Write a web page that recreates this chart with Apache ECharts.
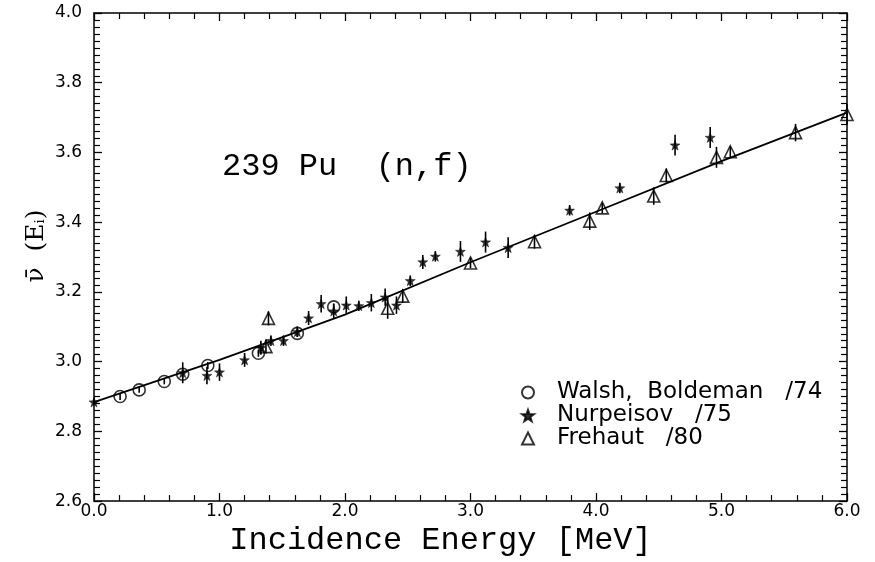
<!DOCTYPE html>
<html>
<head>
<meta charset="utf-8">
<script src="https://cdn.jsdelivr.net/npm/echarts@6/dist/echarts.min.js"></script>
<style>
html,body{margin:0;padding:0;background:#fff;}
#chart{width:875px;height:562px;}
</style>
</head>
<body>
<div id="chart"></div>
<script>
// ---- data ----
const walshE   = [0.208, 0.36, 0.56, 0.707, 0.907, 1.31, 1.62, 1.91];
const walshNu  = [2.900, 2.919, 2.943, 2.964, 2.989, 3.024, 3.081, 3.157];
const walshErr = [0.010, 0.008, 0.008, 0.010, 0.010, 0.010, 0.010, 0.010];

const nurpE   = [0.0, 0.707, 0.90, 1.00, 1.20, 1.33, 1.41, 1.51, 1.62, 1.71, 1.81, 1.91, 2.01, 2.11, 2.21, 2.32, 2.41, 2.52, 2.62, 2.72, 2.92, 3.12, 3.30, 3.79, 4.19, 4.63, 4.91];
const nurpNu  = [2.884, 2.968, 2.960, 2.970, 3.005, 3.040, 3.060, 3.060, 3.086, 3.125, 3.166, 3.145, 3.162, 3.160, 3.169, 3.185, 3.162, 3.232, 3.286, 3.302, 3.316, 3.343, 3.327, 3.434, 3.498, 3.621, 3.643];
const nurpErr = [0.005, 0.030, 0.025, 0.025, 0.020, 0.020, 0.015, 0.015, 0.015, 0.020, 0.025, 0.020, 0.025, 0.015, 0.025, 0.025, 0.025, 0.015, 0.020, 0.015, 0.030, 0.030, 0.030, 0.015, 0.015, 0.030, 0.030];

const frehE   = [1.37, 1.39, 2.34, 2.46, 3.00, 3.51, 3.95, 4.05, 4.46, 4.56, 4.96, 5.07, 5.59, 6.00];
const frehNu  = [3.043, 3.124, 3.153, 3.188, 3.283, 3.344, 3.403, 3.441, 3.475, 3.534, 3.586, 3.602, 3.657, 3.709];
const frehErr = [0.020, 0.020, 0.030, 0.020, 0.015, 0.020, 0.025, 0.015, 0.025, 0.020, 0.030, 0.015, 0.025, 0.030];

const fitE  = [0.0, 1.0, 2.0, 3.0, 4.0, 5.0, 6.0];
const fitNu = [2.884, 3.005, 3.135, 3.285, 3.430, 3.575, 3.714];

const xTicks = ['0.0','1.0','2.0','3.0','4.0','5.0','6.0'];
const yTicks = ['2.6','2.8','3.0','3.2','3.4','3.6','3.8','4.0'];

const seriesNames = ['Walsh,  Boldeman   /74', 'Nurpeisov   /75', 'Frehaut   /80'];
const titleText = '239 Pu  (n,f)';
const xName = 'Incidence Energy [MeV]';

// ---- chart ----
const STAR = 'path://M0,-10 L2.35,-3.24 L9.51,-3.09 L3.8,1.24 L5.88,8.09 L0,4 L-5.88,8.09 L-3.8,1.24 L-9.51,-3.09 L-2.35,-3.24 Z';
const pts = (xs, ys) => xs.map((x, i) => [x, ys[i]]);
const errPts = (xs, ys, es) => xs.map((x, i) => [x, ys[i] - es[i], ys[i] + es[i]]);

function errSeries(xs, ys, es) {
  return {
    type: 'custom',
    data: errPts(xs, ys, es),
    clip: false,
    silent: true,
    z: 3,
    renderItem: function (params, api) {
      const lo = api.coord([api.value(0), api.value(1)]);
      const hi = api.coord([api.value(0), api.value(2)]);
      return {
        type: 'line',
        shape: { x1: lo[0], y1: lo[1], x2: hi[0], y2: hi[1] },
        style: { stroke: '#000', lineWidth: 1.6 }
      };
    }
  };
}

const tickFont = { fontFamily: 'DejaVu Sans', fontSize: 17, color: '#000' };

const axisCommon = {
  axisLine: { show: true, onZero: false, lineStyle: { color: '#000', width: 1.5 } },
  axisTick: { show: true, inside: true, length: 8, lineStyle: { color: '#000', width: 1.3 } },
  splitLine: { show: false }
};

const chart = echarts.init(document.getElementById('chart'), null, { renderer: 'canvas' });
chart.setOption({
  animation: false,
  backgroundColor: '#fff',
  grid: { left: 94, right: 28, top: 13, bottom: 57 },
  xAxis: [
    Object.assign({}, axisCommon, {
      type: 'value', position: 'bottom', min: 0, max: 6, interval: 1,
      minorTick: { show: true, splitNumber: 5, length: 6, lineStyle: { color: '#000', width: 1.2 } },
      axisLabel: Object.assign({ margin: 2, formatter: v => xTicks[Math.round(v)] }, tickFont),
      name: xName, nameLocation: 'middle', nameGap: 21,
      nameTextStyle: { fontFamily: 'Liberation Mono', fontSize: 32, color: '#000', padding: [0, 60, 0, 0] }
    }),
    Object.assign({}, axisCommon, {
      type: 'value', position: 'top', min: 0, max: 6, interval: 1,
      minorTick: { show: true, splitNumber: 5, length: 6, lineStyle: { color: '#000', width: 1.2 } },
      axisLabel: { show: false }
    })
  ],
  yAxis: [
    Object.assign({}, axisCommon, {
      type: 'value', position: 'left', min: 2.6, max: 4.0, interval: 0.2,
      minorTick: { show: true, splitNumber: 10, length: 6, lineStyle: { color: '#000', width: 1.2 } },
      axisLabel: Object.assign({ margin: 12, formatter: v => yTicks[Math.round((v - 2.6) / 0.2)] }, tickFont)
    }),
    Object.assign({}, axisCommon, {
      type: 'value', position: 'right', min: 2.6, max: 4.0, interval: 0.2,
      minorTick: { show: true, splitNumber: 10, length: 6, lineStyle: { color: '#000', width: 1.2 } },
      axisLabel: { show: false }
    })
  ],
  legend: {
    orient: 'vertical',
    left: 516, top: 376,
    itemGap: 0,
    itemWidth: 12, itemHeight: 12,
    textStyle: { fontFamily: 'DejaVu Sans', fontSize: 23, color: '#000', padding: [0, 0, 0, 18] },
    data: seriesNames
  },
  graphic: [
    {
      type: 'text', left: 222, top: 151,
      style: { text: titleText, fontFamily: 'Liberation Mono', fontSize: 32, fill: '#000' }
    },
    {
      type: 'text', x: 36, y: 246, rotation: Math.PI / 2,
      style: {
        text: '{a|ν̄  (E}{b|i}{a|)}',
        align: 'center', verticalAlign: 'middle',
        rich: {
          a: { fontFamily: 'DejaVu Serif', fontSize: 25, fill: '#000', color: '#000' },
          b: { fontFamily: 'DejaVu Serif', fontSize: 13, fill: '#000', color: '#000', padding: [10, 0, 0, 0] }
        }
      }
    }
  ],
  series: [
    {
      type: 'line', data: pts(fitE, fitNu), showSymbol: false, symbol: 'none',
      lineStyle: { color: '#000', width: 1.8 }, z: 2, silent: true
    },
    errSeries(walshE, walshNu, walshErr),
    errSeries(nurpE, nurpNu, nurpErr),
    errSeries(frehE, frehNu, frehErr),
    {
      name: seriesNames[0], type: 'scatter', data: pts(walshE, walshNu),
      symbol: 'circle', symbolSize: 12, clip: false, z: 4,
      itemStyle: { color: 'rgba(255,255,255,0)', borderColor: '#000', borderWidth: 1.6 }
    },
    {
      name: seriesNames[1], type: 'scatter', data: pts(nurpE, nurpNu),
      symbol: STAR, symbolSize: 10, clip: false, z: 4,
      itemStyle: { color: '#000', borderColor: '#000', borderWidth: 0.5 }
    },
    {
      name: seriesNames[2], type: 'scatter', data: pts(frehE, frehNu),
      symbol: 'triangle', symbolSize: 12, clip: false, z: 4,
      itemStyle: { color: 'rgba(255,255,255,0)', borderColor: '#000', borderWidth: 1.6 }
    }
  ]
});
</script>
</body>
</html>
